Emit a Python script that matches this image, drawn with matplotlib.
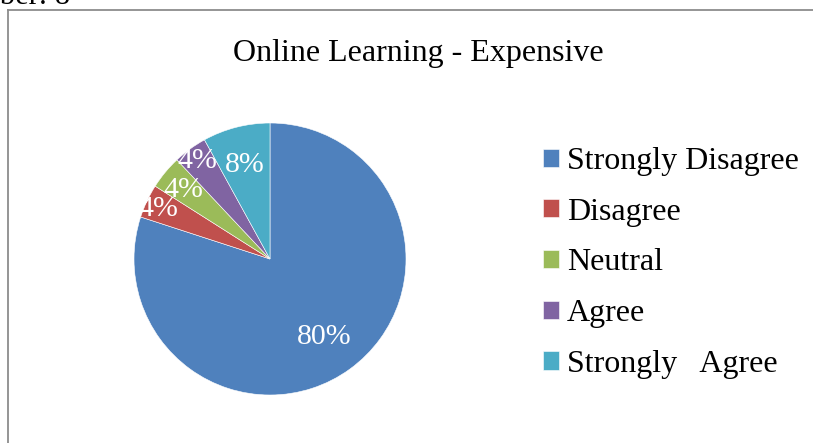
import matplotlib
matplotlib.use("Agg")
import matplotlib.pyplot as plt
import numpy as np
from matplotlib.lines import Line2D

categories = ["Strongly Disagree", "Disagree", "Neutral", "Agree", "Strongly   Agree"]
values = [80, 4, 4, 4, 8]
colors = ["#4F81BD", "#C0504D", "#9BBB59", "#8064A2", "#4BACC6"]
label_dist = [0.68, 0.91, 0.825, 0.915, 0.74]

plt.rcParams['font.family'] = ['Liberation Serif', 'DejaVu Serif']

W, H = 813, 443
fig = plt.figure(figsize=(W / 100, H / 100), dpi=100)

cx, cy, r = 270, 259, 136
ax = fig.add_axes([(cx - r) / W, (H - cy - r) / H, 2 * r / W, 2 * r / H])
wedges, _ = ax.pie(values, startangle=90, counterclock=False, colors=colors,
                   wedgeprops=dict(edgecolor="white", linewidth=0.4))
ax.set_xlim(-1, 1)
ax.set_ylim(-1, 1)
ax.set_aspect("equal")
ax.axis("off")

for w, v, d in zip(wedges, values, label_dist):
    ang = np.deg2rad((w.theta1 + w.theta2) / 2)
    ax.text(d * np.cos(ang), d * np.sin(ang), f"{v}%", ha="center", va="center_baseline",
            color="white", fontsize=21.5)

fig.text(418 / W, 1 - 53 / H, "Online Learning - Expensive", ha="center", va="center",
         fontsize=23, color="black")

leg = fig.legend(wedges, categories, loc="upper left", bbox_to_anchor=(543 / W, 1 - 147 / H),
                 frameon=False, fontsize=23, handlelength=0.5, handleheight=0.5,
                 handletextpad=0.25, labelspacing=0.68, borderaxespad=0, borderpad=0)

# frame lines
fig.add_artist(Line2D([8 / W, 1.0], [1 - 10 / H, 1 - 10 / H], transform=fig.transFigure,
                      color="#8c8c8c", linewidth=1.3))
fig.add_artist(Line2D([8 / W, 8 / W], [1 - 10 / H, 0], transform=fig.transFigure,
                      color="#8c8c8c", linewidth=1.3))

fig.text(70 / W, 1 - 4 / H, "Number: 8", ha="right", va="baseline", fontsize=22, color="black")

fig.savefig("out.png", dpi=100)
